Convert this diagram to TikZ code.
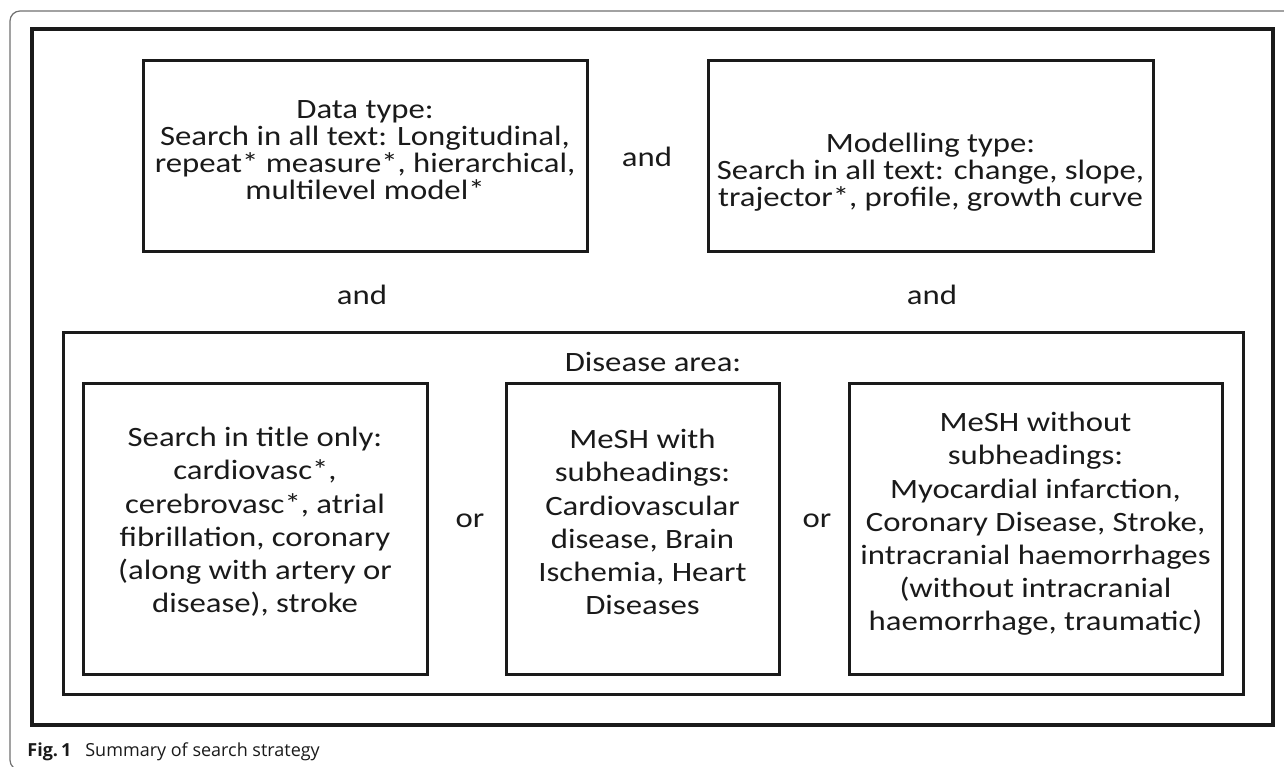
\documentclass[tikz,border=0pt]{standalone}
\usepackage{fontspec}
\setmainfont{Carlito}[FakeStretch=1.17]
\newfontfamily\capfont{Open Sans}
\usetikzlibrary{positioning}

\definecolor{inkblack}{HTML}{1A1A1A}
\definecolor{framegray}{HTML}{707070}

\tikzset{
  termbox/.style={draw=inkblack, line width=1.5pt, inner sep=0pt},
  toptext/.style={align=center, text=inkblack, font=\fontsize{14}{13.6}\selectfont},
  lowtext/.style={align=center, text=inkblack, font=\fontsize{14}{16.6}\selectfont},
  joinword/.style={text=inkblack, font=\fontsize{14}{16}\selectfont}
}

\begin{document}
\begin{tikzpicture}[x=0.5pt,y=-0.5pt]

\clip (0,0) rectangle (1284,766);
\useasboundingbox (0,0) rectangle (1284,766);

%frame
\draw[framegray, line width=0.6pt, rounded corners=5pt] (10,11) rectangle (1330,770);

%boxes
\node[termbox, line width=1.7pt, minimum width=620.5pt, minimum height=348pt] (outer) at (652.5,377) {};
\node[termbox, minimum width=222pt, minimum height=95.5pt] (databox) at (365,155.5) {};
\node[termbox, minimum width=222.5pt, minimum height=95.5pt] (modelbox) at (930.5,155.5) {};
\node[termbox, minimum width=590pt, minimum height=181pt] (diseasebox) at (653,513) {};
\node[termbox, minimum width=172pt, minimum height=145.5pt] (titlebox) at (255,528.5) {};
\node[termbox, minimum width=136.5pt, minimum height=145.5pt] (meshbox) at (642.5,528.5) {};
\node[termbox, minimum width=186.5pt, minimum height=145.5pt] (nosubbox) at (1035.5,528.5) {};

%Beschriftung
\node[toptext] (datatext) at (365,150) {Data type:\\ Search in all text: Longitudinal,\\ repeat* measure*, hierarchical,\\ multilevel model*};
\node[toptext] (modeltext) at (930.5,172) {Modelling type:\\ Search in all text: change, slope,\\ trajector*, profile, growth curve};
\node[joinword] (andmid) at (647,157) {and};
\node[joinword] (andleft) at (362,295) {and};
\node[joinword] (andright) at (932,295) {and};

\node[joinword] (diseasetext) at (653,362) {Disease area:};
\node[lowtext] (titletext) at (255,522) {Search in title only:\\ cardiovasc*,\\ cerebrovasc*, atrial\\ fibrillation, coronary\\ (along with artery or\\ disease), stroke};
\node[lowtext] (meshtext) at (642.5,522) {MeSH with\\ subheadings:\\ Cardiovascular\\ disease, Brain\\ Ischemia, Heart\\ Diseases};
\node[lowtext] (nosubtext) at (1035.5,524) {MeSH without\\ subheadings:\\ Myocardial infarction,\\ Coronary Disease, Stroke,\\ intracranial haemorrhages\\ (without intracranial\\ haemorrhage, traumatic)};
\node[joinword] (orleft) at (470,521) {or};
\node[joinword] (orright) at (817,521) {or};

%caption
\node[anchor=base west, inner sep=0pt, text=inkblack, font=\capfont\fontsize{9}{11}\selectfont] (caption) at (27,756) {\textbf{Fig.\,1}\hspace{7pt}Summary of search strategy};

\end{tikzpicture}
\end{document}
